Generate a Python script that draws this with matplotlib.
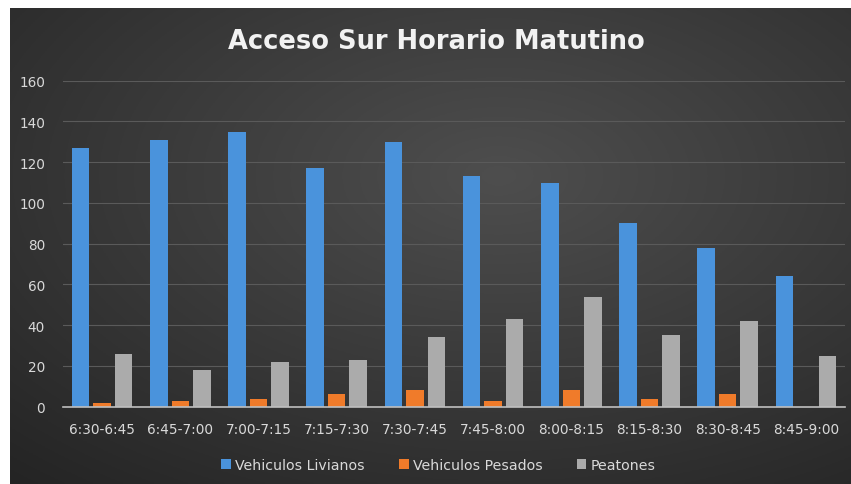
import numpy as np
import matplotlib
matplotlib.use("Agg")
import matplotlib.pyplot as plt

categories = ["6:30-6:45", "6:45-7:00", "7:00-7:15", "7:15-7:30", "7:30-7:45",
              "7:45-8:00", "8:00-8:15", "8:15-8:30", "8:30-8:45", "8:45-9:00"]
livianos = [127, 131, 135, 117, 130, 113, 110, 90, 78, 64]
pesados = [2, 3, 4, 6, 8, 3, 8, 4, 6, 0]
peatones = [26, 18, 22, 23, 34, 43, 54, 35, 42, 25]
series_names = ["Vehiculos Livianos", "Vehiculos Pesados", "Peatones"]
yticks = [0, 20, 40, 60, 80, 100, 120, 140, 160]

plt.rcParams["font.family"] = ["DejaVu Sans"]

W, H = 851, 485
fig = plt.figure(figsize=(W / 100, H / 100), dpi=100, facecolor="white")

# background panel with radial gradient
bg = fig.add_axes([10 / W, 0, (W - 10) / W, (H - 9) / H])
bg.set_axis_off()
ny, nx = 200, 360
yy, xx = np.mgrid[0:ny, 0:nx]
cx, cy = nx * 0.58, ny * 0.35
r = np.sqrt(((xx - cx) / nx) ** 2 + ((yy - cy) / ny) ** 2)
r = r / r.max()
light = np.array([0x4e, 0x4e, 0x4e]) / 255
dark = np.array([0x24, 0x24, 0x24]) / 255
img = light[None, None, :] * (1 - r[..., None]) + dark[None, None, :] * r[..., None]
bg.imshow(img, aspect="auto", extent=[0, 1, 0, 1], origin="upper")
bg.set_xlim(0, 1)
bg.set_ylim(0, 1)

ax = fig.add_axes([63 / W, 1 - 407.7 / H, (845 - 63) / W, (407.7 - 81.7) / H])
ax.set_facecolor("none")

x = np.arange(len(categories))
w = 0.225
off = 0.275
colors = ["#4a93dc", "#f07b2a", "#ababab"]
for i, (vals, c) in enumerate(zip([livianos, pesados, peatones], colors)):
    ax.bar(x + (i - 1) * off, vals, width=w, color=c, label=series_names[i], zorder=3)

ax.set_ylim(0, 160)
ax.set_xlim(-0.5, len(categories) - 0.5)
ax.set_yticks(yticks)
ax.set_xticks(x)
ax.set_xticklabels(categories)
ax.grid(axis="y", color="#5a5a5a", linewidth=0.8, zorder=0)
for s in ["top", "right", "left"]:
    ax.spines[s].set_visible(False)
ax.spines["bottom"].set_color("#bfbfbf")
ax.spines["bottom"].set_linewidth(1.2)
ax.spines["bottom"].set_zorder(4)
ax.tick_params(axis="both", length=0, colors="#d9d9d9", labelsize=9.8)
ax.tick_params(axis="y", pad=13)
ax.tick_params(axis="x", pad=11)

fig.text(0.513, 1 - 42 / H, "Acceso Sur Horario Matutino", ha="center", va="center",
         fontsize=18.5, fontweight="bold", color="#f2f2f2")

leg = fig.legend(loc="center", bbox_to_anchor=(0.515, 1 - 466 / H), ncol=3, frameon=False,
                 fontsize=10.2, handlelength=0.7, handleheight=0.7, handletextpad=0.3,
                 columnspacing=2.4)
for t in leg.get_texts():
    t.set_color("#d9d9d9")

fig.savefig("out.png", dpi=100, facecolor="white")
